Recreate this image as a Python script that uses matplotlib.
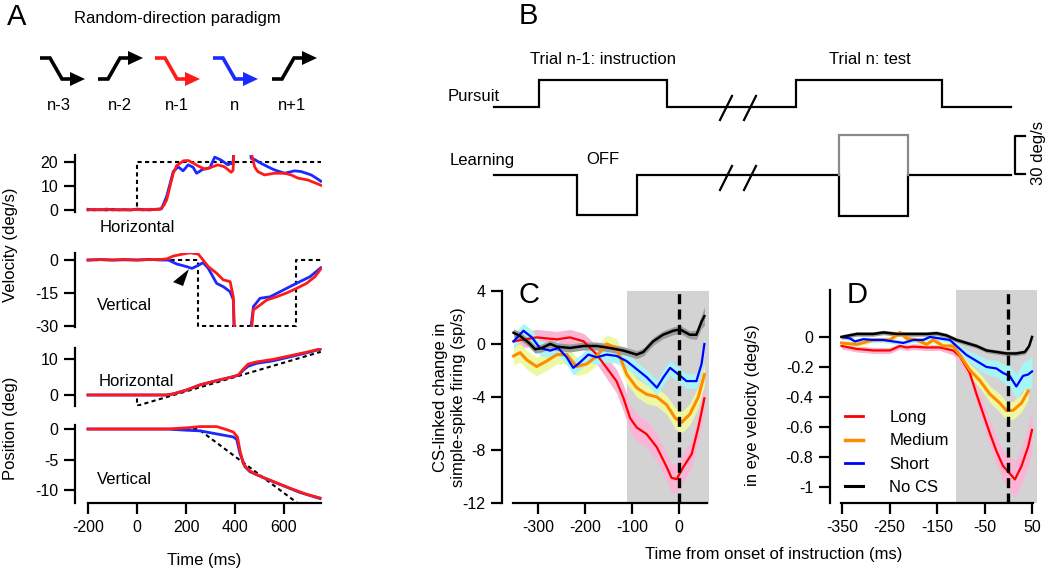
import matplotlib
matplotlib.use("Agg")
import matplotlib.pyplot as plt
from matplotlib.lines import Line2D

plt.rcParams['font.family'] = ['Liberation Sans', 'DejaVu Sans']
plt.rcParams['axes.unicode_minus'] = False
plt.rcParams['font.size'] = 12

W, H = 1050, 573

# ---------------- Panel A data ----------------
icon_labels = ["n-3", "n-2", "n-1", "n", "n+1"]
icon_dirs = ["down", "up", "down", "down", "up"]
icon_colors = ["black", "black", "#ff1a1a", "#1a2aff", "black"]

# horizontal eye velocity (deg/s)
vh_red_t = [-200, -175, -150, -125, -100, -75, -50, -25, 0, 25, 50, 75, 94, 110, 121, 135, 148,
            162, 175, 190, 209, 230, 250, 277, 303, 330, 357, 384, 392, 398, 405, 455, 466,
            480, 493, 520, 561, 602, 629, 656, 697, 739, 750]
vh_red = [0, 0.3, 0, 0.4, 0, 0.2, 0, 0.1, 0.2, 0, 0.3, 0.2, 0.3, 2, 4.2, 10, 15.3,
          18.5, 19.4, 20.5, 20.6, 19.5, 18.3, 17, 17.8, 18.8, 18, 15.7, 16.5, 30, 80, 80, 24,
          18, 16, 14.6, 15.3, 15.3, 14.6, 13.3, 12.5, 10.8, 10.3]
vh_blue_t = [-200, -175, -150, -125, -100, -75, -50, -25, 0, 25, 50, 75, 100, 121, 148, 168,
             188, 209, 229, 243, 270, 297, 317, 343, 371, 384, 392, 397, 404, 452, 459, 466,
             480, 507, 534, 561, 602, 643, 670, 711, 739, 750]
vh_blue = [0.3, 0, 0.2, 0, 0.3, 0, 0.2, 0, 0.4, 0.2, 0, 0.3, 0.5, 5.6, 16, 18,
           16.3, 18.8, 17.8, 15.3, 17, 17.5, 22, 20.8, 18.8, 19.5, 19, 30, 80, 80, 30, 21.5,
           21, 19.4, 18, 16.7, 15.3, 16.3, 16, 14.6, 12.8, 12]
vh_target_t = [-200, 0, 0, 750]
vh_target = [0, 0, 20, 20]

# vertical eye velocity (deg/s)
vv_red_t = [-200, -150, -100, -50, 0, 50, 100, 121, 148, 182, 216, 250, 270, 291, 325, 352, 380,
            393, 400, 405, 455, 461, 475, 502, 529, 570, 610, 651, 692, 726, 747, 750]
vv_red = [0, 0.2, 0, 0.3, 0, 0.2, 0.3, 0.5, 1.8, 2.6, 3.3, 2.7, 0, -3, -6, -9, -9.8,
          -16.7, -40, -80, -80, -40, -22.7, -20.5, -18.2, -16.7, -15, -12.9, -10.6, -7.6, -4.5, -4]
vv_blue_t = [-200, -150, -100, -50, 0, 50, 100, 128, 162, 203, 224, 245, 270, 291, 325, 352, 380,
             393, 398, 403, 450, 455, 475, 502, 543, 584, 624, 665, 706, 747, 750]
vv_blue = [0, 0.2, 0, 0.1, 0, 0.3, 0, 0, -1.8, -3, -3.8, -2.7, -1.2, -3.8, -10.6, -12.1, -14.4,
           -18, -40, -80, -80, -40, -21.2, -17.4, -16.7, -14.4, -12.1, -9.8, -7.6, -3.8, -3.5]
vv_target_t = [-200, 250, 250, 650, 650, 750]
vv_target = [0, 0, -30, -30, 0, 0]

# horizontal eye position (deg)
ph_t = [-200, 0, 121, 148, 203, 257, 325, 393, 414, 434, 454, 488, 556, 624, 692, 747]
ph_red = [0, 0, 0, 0.3, 1.4, 2.8, 4, 5.1, 5.6, 7.2, 8.6, 9.2, 9.9, 10.9, 11.9, 12.8]
ph_blue = [0, 0, 0, 0.3, 1.4, 2.8, 4, 5.1, 5.5, 6.9, 8.0, 8.8, 9.5, 10.6, 11.7, 12.7]
ph_target_t = [-200, 0, 0, 750]
ph_target = [0, 0, -3, 12]

# vertical eye position (deg)
pv_red_t = [-200, 121, 203, 257, 325, 366, 393, 410, 420, 434, 454, 488, 556, 624, 692, 747]
pv_red = [0, 0, 0.2, 0.4, 0.4, -0.1, -0.5, -1.3, -3.5, -5.7, -6.7, -7.5, -8.6, -9.7, -10.7, -11.3]
pv_blue_t = [-200, 121, 203, 257, 325, 393, 407, 420, 441, 461, 529, 597, 665, 747]
pv_blue = [0, 0, -0.2, -0.3, -0.8, -1.3, -1.7, -4, -6.2, -7.0, -8.2, -9.3, -10.4, -11.4]
pv_target_t = [-200, 250, 750]
pv_target = [0, 0, -15]

# ---------------- Panel C data (sp/s) ----------------
c_red_t = [-352, -303, -260, -232, -203, -175, -154, -133, -118, -104, -90, -69, -47, -26, -16, -5, 9, 27, 41, 54]
c_red = [0.2, 0.5, 0.35, 0.5, 0.2, -0.8, -1.8, -2.8, -4.1, -5.6, -6.3, -6.8, -7.8, -9.3, -10.1, -10.2, -9.3, -8.3, -6.3, -4.1]
c_red_sem = [0.6, 0.6, 0.6, 0.6, 0.6, 0.7, 0.8, 0.9, 1.0, 1.0, 1.0, 1.0, 1.0, 1.0, 1.1, 1.1, 1.1, 1.0, 1.0, 1.0]

c_org_t = [-352, -338, -324, -303, -282, -260, -239, -218, -196, -175, -154, -133, -111, -90, -69, -47, -26, -8, 6, 23, 41, 54]
c_org = [-0.9, -0.65, -1.2, -1.7, -1.3, -0.8, -0.8, -1.7, -1.5, -0.9, 0, -0.3, -2.3, -3.3, -3.8, -4.0, -4.6, -5.6, -5.9, -5.3, -4.0, -2.3]
c_org_sem = [0.7, 0.7, 0.7, 0.7, 0.7, 0.7, 0.7, 0.7, 0.7, 0.7, 0.7, 0.7, 0.7, 0.7, 0.7, 0.7, 0.7, 0.8, 0.8, 0.8, 0.8, 0.8]

c_blue_t = [-352, -331, -313, -296, -274, -257, -239, -225, -211, -193, -175, -154, -133, -111, -90, -69, -47, -33, -19, -1, 16, 37, 48, 54]
c_blue = [0.2, 1.0, 0.5, -0.3, -0.5, -0.3, -1.0, -1.8, -1.4, -0.8, -1.0, -0.8, -0.9, -1.3, -1.9, -2.5, -3.3, -2.5, -1.8, -2.3, -2.8, -2.8, -1.5, 0]
c_blue_sem = [0.55] * 24

c_blk_t = [-352, -338, -320, -306, -292, -274, -260, -232, -203, -175, -147, -118, -90, -76, -55, -34, -12, 2, 23, 37, 48, 54]
c_blk = [0.85, 0.6, 0.1, -0.4, -0.3, 0, -0.2, -0.3, -0.15, -0.15, -0.3, -0.5, -0.8, -0.6, 0.2, 0.7, 1.0, 1.1, 0.7, 0.7, 1.7, 2.1]
c_blk_sem = [0.3, 0.3, 0.3, 0.3, 0.3, 0.3, 0.3, 0.3, 0.3, 0.3, 0.3, 0.3, 0.3, 0.3, 0.3, 0.3, 0.3, 0.3, 0.3, 0.35, 0.5, 0.7]

# ---------------- Panel D data (deg/s) ----------------
d_red_t = [-351, -319, -284, -249, -228, -214, -200, -172, -144, -116, -102, -81, -67, -53, -39, -25, -11, 3, 14, 28, 42, 50]
d_red = [-0.06, -0.08, -0.09, -0.09, -0.06, -0.07, -0.065, -0.07, -0.07, -0.09, -0.13, -0.24, -0.38, -0.51, -0.64, -0.76, -0.86, -0.91, -0.95, -0.86, -0.73, -0.62]
d_red_sem = [0.02, 0.02, 0.02, 0.02, 0.02, 0.02, 0.02, 0.02, 0.02, 0.03, 0.04, 0.05, 0.06, 0.07, 0.08, 0.09, 0.1, 0.11, 0.12, 0.12, 0.13, 0.13]

d_org_t = [-351, -319, -284, -249, -228, -214, -193, -172, -158, -137, -116, -102, -81, -60, -39, -18, -4, 10, 28, 42]
d_org = [-0.04, -0.05, -0.02, -0.02, 0.03, -0.01, -0.02, -0.05, -0.02, -0.06, -0.06, -0.12, -0.22, -0.29, -0.38, -0.44, -0.49, -0.49, -0.44, -0.36]
d_org_sem = [0.015, 0.015, 0.015, 0.02, 0.02, 0.02, 0.02, 0.02, 0.02, 0.02, 0.025, 0.03, 0.04, 0.05, 0.055, 0.06, 0.06, 0.06, 0.06, 0.06]

d_blue_t = [-351, -333, -323, -305, -284, -263, -242, -221, -200, -179, -165, -144, -123, -109, -88, -67, -46, -25, -11, 3, 17, 31, 42, 50]
d_blue = [0, -0.01, -0.03, -0.015, -0.02, -0.02, -0.03, -0.04, -0.02, -0.02, 0, -0.01, -0.02, -0.06, -0.12, -0.16, -0.2, -0.21, -0.24, -0.26, -0.33, -0.26, -0.25, -0.23]
d_blue_sem = [0.015, 0.015, 0.015, 0.015, 0.015, 0.015, 0.015, 0.015, 0.015, 0.015, 0.015, 0.015, 0.02, 0.025, 0.035, 0.045, 0.05, 0.055, 0.06, 0.07, 0.08, 0.09, 0.1, 0.1]

d_blk_t = [-351, -319, -284, -263, -235, -200, -172, -151, -130, -109, -88, -67, -46, -25, -4, 17, 35, 44, 50]
d_blk = [0, 0.02, 0.02, 0.03, 0.02, 0.02, 0.02, 0.025, 0.01, -0.02, -0.04, -0.06, -0.09, -0.1, -0.11, -0.11, -0.1, -0.06, 0]
d_blk_sem = [0.015] * 19

legend_labels = ["Long", "Medium", "Short", "No CS"]

# ---------------- Panel B schematic (pixel layout units) ----------------
pursuit_x = [494, 539, 539, 667, 667, 796, 796, 942, 942, 1011]
pursuit_y = [107, 107, 80, 80, 107, 107, 80, 80, 107, 107]
learning_x = [494, 577, 577, 637, 637, 839, 839, 908, 908, 1011]
learning_y = [175, 175, 215, 215, 175, 175, 216, 216, 175, 175]
test_up_x = [839, 839, 908, 908]
test_up_y = [175, 135, 135, 175]
break_x = [726, 750]
break_rows = [108, 178]

# ---------------- helpers ----------------
fig = plt.figure(figsize=(W / 100, H / 100), dpi=100)


def px_axes(l, t, r, b):
    return fig.add_axes([l / W, 1 - b / H, (r - l) / W, (b - t) / H])


def ftext(x, y, s, **kw):
    return fig.text(x / W, 1 - y / H, s, **kw)


def style(ax, left=True, bottom=False):
    for s in ['top', 'right']:
        ax.spines[s].set_visible(False)
    ax.spines['left'].set_visible(left)
    ax.spines['bottom'].set_visible(bottom)
    for s in ['left', 'bottom']:
        ax.spines[s].set_linewidth(1.6)
    ax.tick_params(direction='out', length=8, width=1.6, labelsize=11.5, pad=4)
    if not bottom:
        ax.tick_params(axis='x', bottom=False, labelbottom=False)
    ax.patch.set_alpha(0)


RED_A = "#ff1a1a"
BLUE_A = "#1a2aff"

# ---------------- Panel A top (icons) ----------------
ax_top = px_axes(0, 0, 420, 140)
ax_top.set_xlim(0, 420)
ax_top.set_ylim(140, 0)
ax_top.axis('off')
icon_x0 = [40, 98, 155, 213, 272]
label_x = [59, 120, 177, 235, 292]
for x0, d, c, lab, lx in zip(icon_x0, icon_dirs, icon_colors, icon_labels, label_x):
    y_start, y_end = (58, 79) if d == "down" else (79, 58)
    ax_top.plot([x0, x0 + 10, x0 + 22, x0 + 31], [y_start, y_start, y_end, y_end],
                color=c, lw=2.6, solid_joinstyle='miter', solid_capstyle='butt')
    ax_top.fill([x0 + 30, x0 + 45, x0 + 30], [y_end - 7, y_end, y_end + 7], color=c, lw=0)
    ax_top.text(lx, 106, lab, ha='center', va='center', fontsize=12)
ftext(17, 17, "A", fontsize=21, ha='center', va='center')
ftext(177, 18, "Random-direction paradigm", fontsize=12, ha='center', va='center')

# ---------------- Panel A traces ----------------
XL = (-253, 755)
ax1 = px_axes(75, 155, 322, 212)
ax1.set_xlim(*XL)
ax1.set_ylim(-0.83, 22.9)
style(ax1)
ax1.plot(vh_target_t, vh_target, color='k', lw=1.5, dashes=(2, 1.6))
ax1.plot(vh_blue_t, vh_blue, color=BLUE_A, lw=2)
ax1.plot(vh_red_t, vh_red, color=RED_A, lw=2)
ax1.set_yticks([0, 10, 20])

ax2 = px_axes(75, 253, 322, 327)
ax2.set_xlim(*XL)
ax2.set_ylim(-30.45, 3.2)
style(ax2)
ax2.plot(vv_target_t, vv_target, color='k', lw=1.5, dashes=(2, 1.6))
ax2.plot(vv_blue_t, vv_blue, color=BLUE_A, lw=2)
ax2.plot(vv_red_t, vv_red, color=RED_A, lw=2)
ax2.fill([212, 147, 188], [-4.1, -10, -11.8], color='k', lw=0, zorder=5)
ax2.set_yticks([-30, -15, 0])

ax3 = px_axes(75, 348, 322, 406)
ax3.set_xlim(*XL)
ax3.set_ylim(-3.06, 13.06)
style(ax3)
ax3.plot(ph_target_t, ph_target, color='k', lw=1.5, dashes=(2, 1.6))
ax3.plot(ph_t, ph_blue, color=BLUE_A, lw=2)
ax3.plot(ph_t, ph_red, color=RED_A, lw=2)
ax3.set_yticks([0, 10])

ax4 = px_axes(75, 425, 322, 503)
ax4.set_xlim(*XL)
ax4.set_ylim(-12.13, 0.66)
style(ax4, bottom=True)
ax4.plot(pv_target_t, pv_target, color='k', lw=1.5, dashes=(2, 1.6))
ax4.plot(pv_blue_t, pv_blue, color=BLUE_A, lw=2)
ax4.plot(pv_red_t, pv_red, color=RED_A, lw=2)
ax4.set_yticks([-10, -5, 0])
ax4.set_xticks([-200, 0, 200, 400, 600])
ax4.spines['bottom'].set_bounds(-200, 750)

ftext(100, 227, "Horizontal", ha='left', va='center', fontsize=12)
ftext(97, 305, "Vertical", ha='left', va='center', fontsize=12)
ftext(99, 382, "Horizontal", ha='left', va='center', fontsize=12)
ftext(97, 480, "Vertical", ha='left', va='center', fontsize=12)
ftext(11, 245, "Velocity (deg/s)", rotation=90, ha='center', va='center', fontsize=12)
ftext(11, 428, "Position (deg)", rotation=90, ha='center', va='center', fontsize=12)
ftext(204, 560, "Time (ms)", ha='center', va='center', fontsize=12)

# ---------------- Panel B ----------------
axb = px_axes(430, 0, 1050, 240)
axb.set_xlim(430, 1050)
axb.set_ylim(240, 0)
axb.axis('off')
axb.plot(pursuit_x, pursuit_y, color='k', lw=1.6, solid_joinstyle='miter')
axb.plot(learning_x, learning_y, color='k', lw=1.6, solid_joinstyle='miter')
axb.plot(test_up_x, test_up_y, color='#8a8a8a', lw=1.6, solid_joinstyle='miter')
for bx in break_x:
    for by in break_rows:
        axb.plot([bx - 6, bx + 6], [by + 12, by - 12], color='k', lw=1.6)
axb.plot([1025, 1015, 1015, 1025], [136, 136, 174, 174], color='k', lw=1.6)
ftext(528, 16, "B", fontsize=21, ha='center', va='center')
ftext(603, 60, "Trial n-1: instruction", ha='center', va='center', fontsize=12)
ftext(870, 60, "Trial n: test", ha='center', va='center', fontsize=12)
ftext(448, 97, "Pursuit", ha='left', va='center', fontsize=12)
ftext(450, 160, "Learning", ha='left', va='center', fontsize=12)
ftext(603, 160, "OFF", ha='center', va='center', fontsize=12)
ftext(1038, 153, "30 deg/s", rotation=90, ha='center', va='center', fontsize=12)

# ---------------- Panel C ----------------
PINK, YEL, CYAN, GRAYB = '#f9b4d6', '#eef7a2', '#a6f6f6', '#9c9c9c'
C_RED, C_ORG, C_BLUE = '#ff0000', '#ff8c00', '#0000ff'


def band(ax, t, m, s, col):
    lo = [a - b for a, b in zip(m, s)]
    hi = [a + b for a, b in zip(m, s)]
    ax.fill_between(t, lo, hi, color=col, lw=0, zorder=2)


axc = px_axes(502, 291, 709, 503)
axc.set_xlim(-376.6, 63.8)
axc.set_ylim(-12, 4)
style(axc, bottom=True)
axc.axvspan(-110, 63.8, color='#d3d3d3', lw=0, zorder=0)
band(axc, c_red_t, c_red, c_red_sem, PINK)
band(axc, c_org_t, c_org, c_org_sem, YEL)
band(axc, c_blue_t, c_blue, c_blue_sem, CYAN)
band(axc, c_blk_t, c_blk, c_blk_sem, GRAYB)
axc.plot(c_red_t, c_red, color=C_RED, lw=1.6, zorder=3)
axc.plot(c_org_t, c_org, color=C_ORG, lw=2.2, zorder=3)
axc.plot(c_blue_t, c_blue, color=C_BLUE, lw=1.6, zorder=3)
axc.plot(c_blk_t, c_blk, color='k', lw=1.8, zorder=3)
axc.axvline(0, color='k', lw=2.4, dashes=(3, 1.6), zorder=4)
axc.set_yticks([-12, -8, -4, 0, 4])
axc.set_xticks([-300, -200, -100, 0])
axc.spines['bottom'].set_bounds(-353, 60)
ftext(529, 295, "C", fontsize=21, ha='center', va='center')
ftext(441, 397, "CS-linked change in", rotation=90, ha='center', va='center', fontsize=12)
ftext(459, 397, "simple-spike firing (sp/s)", rotation=90, ha='center', va='center', fontsize=12)

# ---------------- Panel D ----------------
axd = px_axes(830, 290, 1037, 503)
axd.set_xlim(-375.3, 60.5)
axd.set_ylim(-1.107, 0.313)
style(axd, bottom=True)
axd.axvspan(-110, 60.5, color='#d3d3d3', lw=0, zorder=0)
band(axd, d_red_t, d_red, d_red_sem, PINK)
band(axd, d_org_t, d_org, d_org_sem, YEL)
band(axd, d_blue_t, d_blue, d_blue_sem, CYAN)
band(axd, d_blk_t, d_blk, d_blk_sem, GRAYB)
axd.plot(d_red_t, d_red, color=C_RED, lw=1.6, zorder=3)
axd.plot(d_org_t, d_org, color=C_ORG, lw=2.2, zorder=3)
axd.plot(d_blue_t, d_blue, color=C_BLUE, lw=1.6, zorder=3)
axd.plot(d_blk_t, d_blk, color='k', lw=1.8, zorder=3)
axd.axvline(0, color='k', lw=2.4, dashes=(3, 1.6), zorder=4)
axd.set_yticks([-1, -0.8, -0.6, -0.4, -0.2, 0])
axd.set_yticklabels(['-1', '-0.8', '-0.6', '-0.4', '-0.2', '0'])
axd.set_xticks([-350, -250, -150, -50, 50])
axd.spines['bottom'].set_bounds(-352, 52)
ftext(857, 295, "D", fontsize=21, ha='center', va='center')
ftext(753, 405, "in eye velocity (deg/s)", rotation=90, ha='center', va='center', fontsize=12)

handles = [Line2D([], [], color=C_RED, lw=2),
           Line2D([], [], color=C_ORG, lw=2.5),
           Line2D([], [], color=C_BLUE, lw=2),
           Line2D([], [], color='k', lw=2.2)]
fig.legend(handles, legend_labels, loc='upper left', bbox_to_anchor=(845 / W, 1 - 410 / H),
           frameon=False, borderpad=0, borderaxespad=0, handlelength=1.1,
           handletextpad=1.55, labelspacing=0.5, fontsize=12)

ftext(774, 555, "Time from onset of instruction (ms)", ha='center', va='center', fontsize=12)

fig.savefig("out.png", dpi=100)
